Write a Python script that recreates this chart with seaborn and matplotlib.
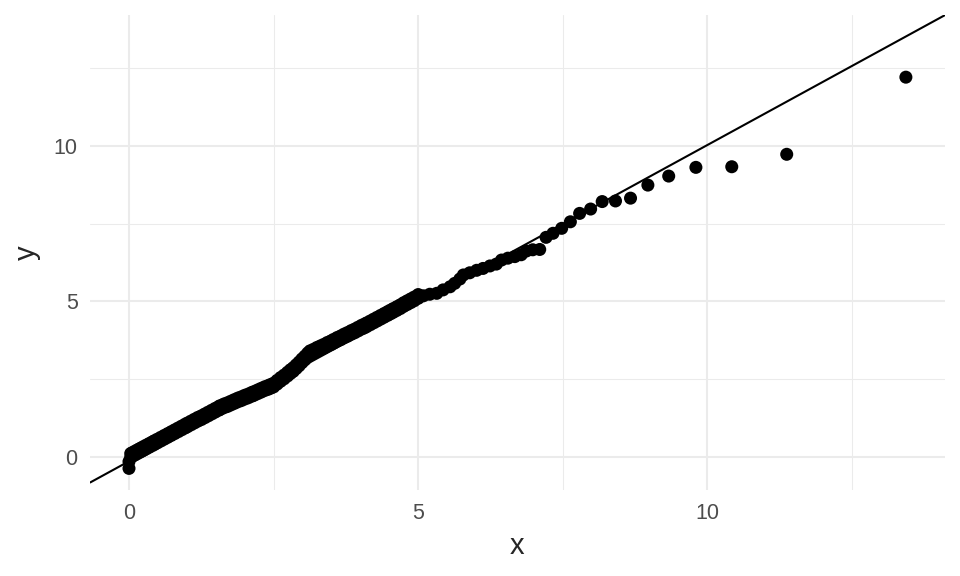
import matplotlib
matplotlib.use("Agg")
import matplotlib.pyplot as plt
import seaborn as sns
import pandas as pd

# dense part of the Q-Q plot: theoretical quantiles and the lower / upper
# edge of the thick band of sample quantiles
x_dense = [0.03, 0.06, 0.1, 0.14, 0.18, 0.22, 0.26, 0.3, 0.35, 0.4,
           0.44, 0.49, 0.55, 0.61, 0.67, 0.73, 0.79, 0.85, 0.91, 0.97,
           1.01, 1.07, 1.13, 1.19, 1.25, 1.31, 1.37, 1.43, 1.49, 1.55,
           1.58, 1.64, 1.7, 1.76, 1.82, 1.88, 1.94, 2.0, 2.06, 2.12,
           2.16, 2.22, 2.28, 2.34, 2.4, 2.45, 2.5, 2.56, 2.62, 2.68,
           2.74, 2.79, 2.84, 2.89, 2.94, 2.99, 3.04, 3.09, 3.13, 3.19,
           3.25, 3.31, 3.37, 3.43, 3.49, 3.54, 3.6, 3.66, 3.72, 3.78,
           3.84, 3.9, 3.96, 4.02, 4.07, 4.11, 4.17, 4.23, 4.29, 4.35,
           4.41, 4.47, 4.52, 4.57, 4.63, 4.69, 4.75, 4.81, 4.87, 4.93,
           5.0]
y_dense_low = [-0.01, 0.02, 0.06, 0.1, 0.14, 0.18, 0.22, 0.26, 0.31, 0.36,
               0.40, 0.45, 0.51, 0.57, 0.63, 0.69, 0.75, 0.81, 0.87, 0.93,
               0.97, 1.03, 1.09, 1.15, 1.20, 1.26, 1.32, 1.38, 1.44, 1.50,
               1.53, 1.58, 1.62, 1.67, 1.72, 1.77, 1.81, 1.86, 1.90, 1.95,
               1.98, 2.03, 2.08, 2.13, 2.17, 2.21, 2.25, 2.34, 2.43, 2.51,
               2.60, 2.68, 2.75, 2.84, 2.93, 3.03, 3.12, 3.22, 3.29, 3.34,
               3.40, 3.45, 3.50, 3.56, 3.61, 3.66, 3.72, 3.77, 3.83, 3.88,
               3.94, 3.99, 4.05, 4.11, 4.15, 4.19, 4.25, 4.31, 4.37, 4.43,
               4.49, 4.55, 4.60, 4.65, 4.71, 4.77, 4.84, 4.90, 4.96, 5.02,
               5.10]
y_dense_high = [0.11, 0.14, 0.18, 0.22, 0.26, 0.30, 0.34, 0.38, 0.43, 0.48,
                0.52, 0.57, 0.63, 0.69, 0.75, 0.81, 0.87, 0.93, 0.99, 1.05,
                1.09, 1.15, 1.21, 1.27, 1.32, 1.38, 1.44, 1.50, 1.56, 1.62,
                1.65, 1.70, 1.74, 1.79, 1.84, 1.89, 1.93, 1.98, 2.02, 2.07,
                2.10, 2.15, 2.20, 2.25, 2.29, 2.33, 2.37, 2.46, 2.55, 2.63,
                2.72, 2.80, 2.87, 2.96, 3.05, 3.15, 3.24, 3.34, 3.41, 3.46,
                3.52, 3.57, 3.62, 3.68, 3.73, 3.78, 3.84, 3.89, 3.95, 4.00,
                4.06, 4.11, 4.17, 4.23, 4.27, 4.31, 4.37, 4.43, 4.49, 4.55,
                4.61, 4.67, 4.72, 4.77, 4.83, 4.89, 4.96, 5.02, 5.08, 5.14,
                5.22]

# individual points (lowest values and the upper tail)
x_sparse = [0.0, 0.0,
            5.09, 5.2, 5.32, 5.43, 5.55, 5.63, 5.72, 5.78, 5.89, 6.01, 6.12, 6.24, 6.35, 6.44,
            6.55, 6.67, 6.78, 6.87, 6.98, 7.10, 7.21, 7.33, 7.48, 7.63, 7.79, 7.98, 8.18, 8.41,
            8.67, 8.97, 9.33, 9.80, 10.42, 11.37, 13.43]
y_sparse = [-0.37, -0.15,
            5.18, 5.23, 5.26, 5.37, 5.47, 5.58, 5.72, 5.85, 5.92, 6.0, 6.06, 6.14, 6.2, 6.33,
            6.39, 6.44, 6.5, 6.62, 6.66, 6.67, 7.06, 7.19, 7.35, 7.56, 7.83, 7.97, 8.21, 8.23,
            8.32, 8.74, 9.03, 9.31, 9.33, 9.73, 12.21]

# reference line
line_intercept = -0.14
line_slope = 1.017

df = pd.DataFrame({
    "x": x_dense + x_dense + x_sparse,
    "y": y_dense_low + y_dense_high + y_sparse,
})

sns.set_theme(style="white")
plt.rcParams["font.family"] = ["Liberation Sans", "DejaVu Sans"]

fig = plt.figure(figsize=(9.6, 5.76), dpi=100)
ax = fig.add_axes([0.094, 0.149, 0.890, 0.825])

ax.axline((0, line_intercept), slope=line_slope, color="black", lw=1.5, zorder=2)
sns.scatterplot(data=df, x="x", y="y", ax=ax, color="black", s=88, edgecolor="none", zorder=3)

ax.set_xlim(-0.67, 14.1)
ax.set_ylim(-1.07, 14.21)
ax.set_xticks([0, 5, 10])
ax.set_yticks([0, 5, 10])
ax.set_xticks([2.5, 7.5, 12.5], minor=True)
ax.set_yticks([2.5, 7.5, 12.5], minor=True)
ax.grid(which="major", color="#ebebeb", lw=1.5)
ax.grid(which="minor", color="#ebebeb", lw=0.75)
ax.set_axisbelow(True)
for sp in ax.spines.values():
    sp.set_visible(False)
ax.tick_params(which="both", length=0, labelsize=15.5, labelcolor="#4d4d4d", pad=9)
ax.set_xlabel("x", fontsize=21, labelpad=6)
ax.set_ylabel("y", fontsize=21, labelpad=9)

fig.savefig("out.png", dpi=100)
